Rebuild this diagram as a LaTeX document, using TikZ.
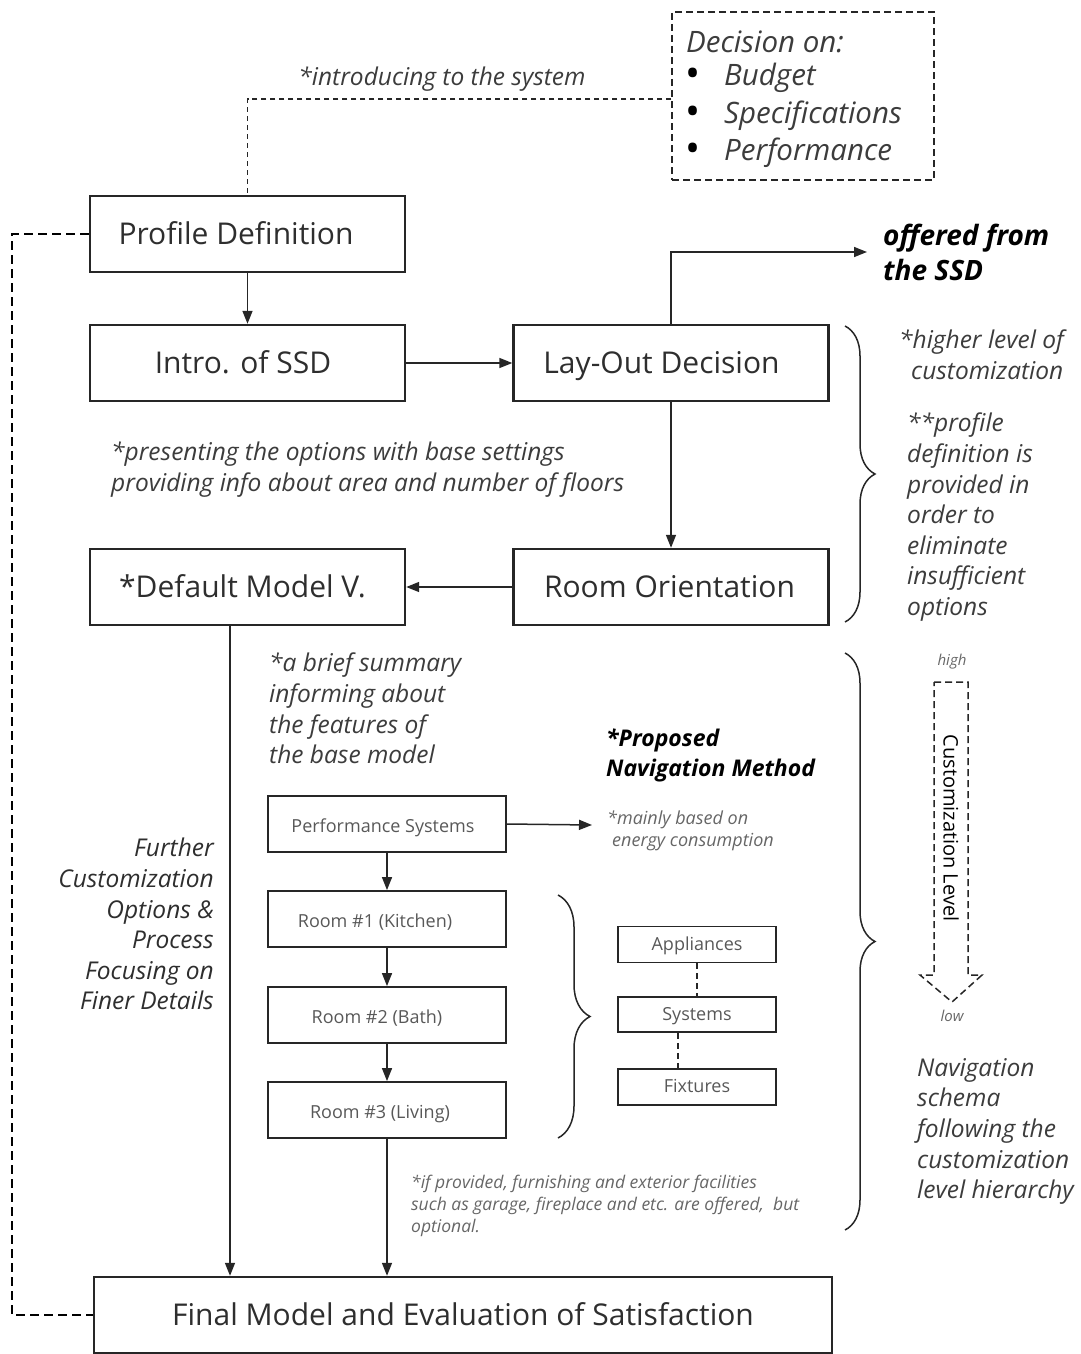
\documentclass[tikz,border=0pt]{standalone}
\usepackage{fontspec}
\setmainfont{Open Sans}
\usetikzlibrary{arrows.meta,decorations.pathreplacing}

\definecolor{ink}{HTML}{2E2E2E}
\definecolor{note}{HTML}{3C3C3C}
\definecolor{soft}{HTML}{666666}
\definecolor{rule}{HTML}{262626}

\tikzset{
  bigbox/.style={draw=rule, line width=2.4pt, minimum width=315pt, minimum height=76pt,
    inner sep=0pt, text=ink, text height=24pt, text depth=4pt,
    font=\fontsize{30}{34}\selectfont},
  smallbox/.style={draw=rule, line width=1.8pt, minimum width=238pt, minimum height=56pt,
    inner sep=0pt, text=ink!80, text height=19pt, text depth=2pt,
    font=\fontsize{18}{22}\selectfont},
  tinybox/.style={draw=rule, line width=1.8pt, minimum width=158pt, minimum height=36pt,
    inner sep=0pt, text=ink!80, text height=15pt, text depth=4pt,
    font=\fontsize{18}{22}\selectfont},
  flow/.style={-{Triangle[length=13pt,width=10pt]}, line width=1.5pt, draw=rule},
  thinlink/.style={dash pattern=on 5pt off 4pt, line width=1.2pt, draw=rule},
  loopback/.style={dash pattern=on 9pt off 5pt, line width=2.6pt, draw=black},
  dotlink/.style={dash pattern=on 6pt off 4pt, line width=1.8pt, draw=rule},
  curly/.style={decorate, decoration={brace, amplitude=#1}, line width=1.5pt, draw=rule},
  memo/.style={inner sep=0pt, text=note, align=left,
    font=\fontsize{24.5}{30.6}\selectfont\itshape},
  smallmemo/.style={inner sep=0pt, text=soft, align=left,
    font=\fontsize{18}{22}\selectfont\itshape},
  decitem/.style={anchor=west, inner sep=0pt, text=note,
    font=\fontsize{29.5}{34}\selectfont\itshape},
}

\begin{document}
\begin{tikzpicture}[x=1pt, y=-1pt]
\useasboundingbox (0,0) rectangle (1081,1354);

% ---- decision box -------------------------------------------------
\node[draw=rule, dash pattern=on 7pt off 4pt, line width=1.3pt,
      minimum width=262pt, minimum height=168pt] (dec) at (803,96) {};
\node[decitem] (decT) at (686,42) {Decision on:};
\foreach \y/\t [count=\i] in {78/Budget, 116/Specifications, 153/Performance}{
  \node[inner sep=0pt, text=black] (dot\i) at (693,\y) {\fontsize{40}{40}\selectfont\textbullet};
  \node[decitem] (item\i) at (724,\y) {\t};
}

% ---- main flow boxes ----------------------------------------------
\node[bigbox] (prof)    at (247.5,234) {Profile Definition\hspace*{23pt}};
\node[bigbox] (intro)   at (247.5,363) {Intro. of SSD\hspace*{9pt}};
\node[bigbox] (layout)  at (671,363)   {Lay-Out Decision\hspace*{19pt}};
\node[bigbox] (room)    at (671,587)   {Room Orientation\hspace*{3pt}};
\node[bigbox] (default) at (247.5,587) {*Default Model V.\hspace*{10pt}};
\node[bigbox, minimum width=738pt] (final) at (463,1315)
  {Final Model and Evaluation of Satisfaction};

% ---- navigation boxes ---------------------------------------------
\node[smallbox] (perf) at (387,824)  {Performance Systems\hspace*{8pt}};
\node[smallbox] (r1)   at (387,919)  {Room \#1 (Kitchen)\hspace*{24pt}};
\node[smallbox] (r2)   at (387,1015) {Room \#2 (Bath)\hspace*{20pt}};
\node[smallbox] (r3)   at (387,1110) {Room \#3 (Living)\hspace*{14pt}};

\node[tinybox] (app) at (697,944.5) {Appliances};
\node[tinybox, minimum height=35pt] (sys) at (697,1014.5) {Systems};
\node[tinybox] (fix) at (697,1087)   {Fixtures};

% ---- connectors ---------------------------------------------------
\draw[thinlink] ([yshift=-3pt]dec.west) -| (prof.north);
\node[inner sep=0pt, text=note, font=\fontsize{24.5}{28}\selectfont\itshape]
  (introT) at (442,79) {*introducing to the system};

\draw[flow] (prof.south) -- (intro.north);
\draw[flow] (intro.east) -- (layout.west);
\draw[flow] (layout.south) -- (room.north);
\draw[flow] (room.west) -- (default.east);

\node[anchor=west, inner sep=2pt, align=left, text=black,
      font=\fontsize{28}{35}\selectfont\bfseries\itshape] (offered) at (867,252)
  {\hspace*{14pt}offered from\\\hspace*{14pt}the SSD};
\draw[flow] (layout.north) |- (offered.west);

\draw[flow] ([xshift=-17.5pt]default.south) -- ([xshift=-17.5pt]default.south |- final.north);
\draw[flow] (r3.south) -- (r3.south |- final.north);

\draw[flow] (perf.south) -- (r1.north);
\draw[flow] (r1.south) -- (r2.north);
\draw[flow] (r2.south) -- (r3.north);

\coordinate (perfend) at (592,825);
\draw[flow] (perf.east) -- (perfend);

\draw[dotlink] (app.south) -- (sys.north);
\draw[dotlink] ([xshift=-19pt]sys.south) -- ([xshift=-19pt]sys.south |- fix.north);

\coordinate (rail) at (12,0);
\draw[loopback] (prof.west) -- (prof.west -| rail) |- (final.west);

% ---- braces -------------------------------------------------------
\coordinate (b1a) at (845,326);  \coordinate (b1b) at (845,622);
\coordinate (b2a) at (845,653);  \coordinate (b2b) at (845,1230);
\coordinate (b3a) at (558,895);  \coordinate (b3b) at (558,1138);
\draw[curly=30pt] (b1a) -- (b1b);
\draw[curly=30pt] (b2a) -- (b2b);
\draw[curly=32pt] (b3a) -- (b3b);

% ---- customization level arrow ------------------------------------
\draw[dash pattern=on 7pt off 4pt, line width=1.5pt, draw=rule, fill=white]
  (934,682) -- (968,682) -- (968,975) -- (982,975) -- (952,1002)
  -- (920,975) -- (934,975) -- cycle;
\node[rotate=-90, inner sep=0pt, text=black, font=\fontsize{20}{22}\selectfont]
  (custT) at (951,828) {Customization Level};
\node[inner sep=0pt, text=soft, font=\fontsize{15}{18}\selectfont\itshape] (high) at (952,662) {high};
\node[inner sep=0pt, text=soft, font=\fontsize{15}{18}\selectfont\itshape] (low)  at (952,1016) {low};

% ---- annotations --------------------------------------------------
\node[memo, anchor=north west] (higherT) at (899,330)
  {*higher level of\\\hspace*{12pt}customization};
\node[memo, anchor=north west] (profT) at (907,413)
  {**profile\\definition is\\provided in\\order to\\eliminate\\insufficient\\options};
\node[memo, anchor=north west] (presT) at (111,442)
  {*presenting the options with base settings\\providing info about area and number of floors};
\node[memo, anchor=north west] (briefT) at (269,653)
  {*a brief summary\\informing about\\the features of\\the base model};
\node[anchor=north west, inner sep=0pt, align=left, text=black,
      font=\fontsize{23}{30}\selectfont\bfseries\itshape] (propT) at (606,729)
  {*Proposed\\Navigation Method};
\node[smallmemo, anchor=north west] (mainT) at (607,811)
  {*mainly based on\\\hspace*{5pt}energy consumption};
\node[memo, anchor=north east, align=right, text=ink] (furtherT) at (214,838)
  {Further\\Customization\\Options \&\\Process\\Focusing on\\Finer Details};
\node[memo, anchor=north west] (navT) at (917,1058)
  {Navigation\\schema\\following the\\customization\\level hierarchy};
\node[smallmemo, anchor=north west, font=\fontsize{17.5}{22}\selectfont\itshape] (optT) at (411,1175)
  {*if provided, furnishing and exterior facilities\\such as garage, fireplace and etc. are offered, \ but\\optional.};

\end{tikzpicture}
\end{document}
